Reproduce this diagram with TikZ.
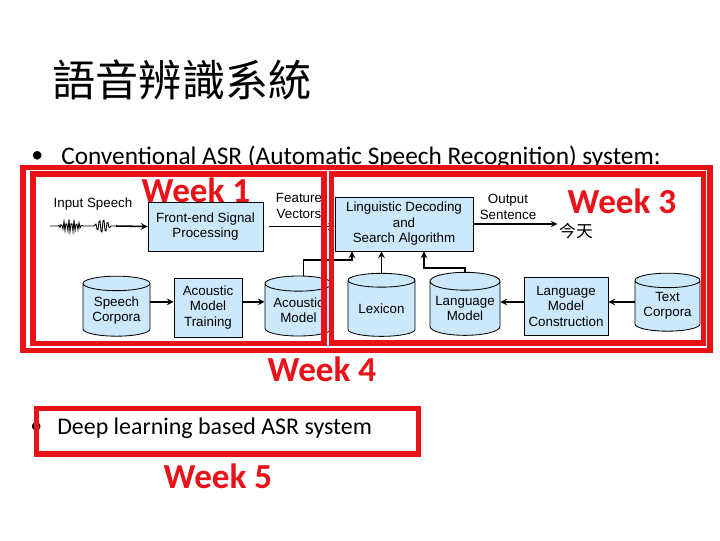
\documentclass[tikz,border=0pt]{standalone}
\usepackage{fontspec}
\setmainfont{Carlito}
\newfontfamily\diagfont{Liberation Sans}
\newfontfamily\cjk{Noto Sans CJK TC}
\usetikzlibrary{shapes.geometric}
\definecolor{weekred}{RGB}{232,18,24}
\definecolor{boxblue}{RGB}{204,232,252}

\begin{document}
\begin{tikzpicture}[x=0.025cm, y=-0.025cm, >=stealth,
  procbox/.style={draw, line width=0.6pt, fill=boxblue, align=center, inner sep=0pt, font=\diagfont\fontsize{9.5}{11}\selectfont},
  dbcyl/.style={cylinder, shape border rotate=90, aspect=0.3, draw, line width=0.6pt, fill=boxblue, align=center, inner sep=0pt, font=\diagfont\fontsize{9.5}{11}\selectfont},
  plainlbl/.style={align=center, inner sep=1pt, font=\diagfont\fontsize{9.5}{11}\selectfont},
  link/.style={->, line width=1.1pt},
  weekframe/.style={draw=weekred, line width=3.6pt},
  weeklabel/.style={text=weekred, inner sep=0pt, font=\bfseries\fontsize{25}{25}\selectfont},
  bullettext/.style={anchor=west, inner sep=0pt, font=\fontsize{17}{17}\selectfont}]
  \fill[white] (0,0) rectangle (720,540);
  \useasboundingbox (0,0) rectangle (720,540);

  % Title and bullets
  \node (title) at (182,80) {\cjk\fontsize{30.7}{31}\selectfont 語音辨識系統};
  \node[bullettext] (dot1) at (31,157) {•};
  \node[bullettext, font=\fontsize{18}{18}\selectfont] (conv) at (61,157) {Conventional ASR (Automatic Speech Recognition) system:};
  \node[bullettext] (dot2) at (30,428) {•};
  \node[bullettext] (deep) at (57,428) {Deep learning based ASR system};

  % Upper row
  \node[plainlbl] (input) at (93,204) {Input Speech};
  \node[procbox, minimum width=2.875cm, minimum height=1.225cm] (fe) at (205.5,226.5) {Front-end Signal\\Processing};
  \node[plainlbl] (feat) at (299,206) {Feature\\Vectors};
  \node[procbox, minimum width=3.45cm, minimum height=1.35cm] (ld) at (404,224) {Linguistic Decoding\\and\\Search Algorithm};
  \node[plainlbl] (outsent) at (508,207) {Output\\Sentence};
  \node[inner sep=1pt, font=\cjk\fontsize{12}{12}\selectfont] (today) at (576,231) {今天};

  % Lower row
  \node[dbcyl, minimum width=1.675cm, minimum height=1.5cm] (sc) at (116.5,310) {\\[-3pt]Speech\\Corpora};
  \node[procbox, minimum width=1.7cm, minimum height=1.475cm] (amt) at (208,307.5) {Acoustic\\Model\\Training};
  \node[dbcyl, minimum width=1.675cm, minimum height=1.5cm] (am) at (298.5,310) {Acoustic\\Model};
  \node[dbcyl, minimum width=1.675cm, minimum height=1.575cm] (lex) at (381.5,308.5) {\raisebox{-5pt}{Lexicon}};
  \node[dbcyl, minimum width=1.75cm, minimum height=1.575cm] (lm) at (465,308.5) {Language\\Model};
  \node[procbox, minimum width=2.1cm, minimum height=1.45cm] (lmc) at (566,306) {Language\\Model\\Construction};
  \node[dbcyl, minimum width=1.625cm, minimum height=1.45cm] (tc) at (667.5,306) {Text\\Corpora};

  % Waveform
  \draw[line width=0.6pt] (50,226) -- (58,226)
    -- plot[domain=58:83, samples=26] (\x,{226+7*sin(180*(\x-58)/25)*sin((\x-58)*577+40)})
    -- (94,226)
    -- plot[domain=94:111, samples=18] (\x,{226+8*sin(180*(\x-94)/17)*sin((\x-94)*631+40)})
    -- (116,226) coordinate (wend);
  \draw[link] (wend) -- (fe.west);

  % Connectors
  \draw[link] ([xshift=0.15cm]fe.east) -- (fe.east -| ld.west);
  \draw[link] (ld.east) -- (ld.east -| today.west);
  \path ([yshift=0.14cm]amt.west) coordinate (amtin);
  \draw[link] (sc.east |- amtin) -- (amtin);
  \path ([yshift=0.14cm]amt.east) coordinate (amtout);
  \draw[link] (amtout) -- (amtout -| am.west);
  \coordinate (amup) at (352,260);
  \draw[link] ([xshift=0.12cm]am.north) |- (amup) -- (amup |- ld.south);
  \draw[link] (lex.north) -- (lex.north |- ld.south);
  \coordinate (lmup) at (424,268);
  \draw[link] (lm.north) |- (lmup) -- (lmup |- ld.south);
  \path ([yshift=0.1cm]lmc.west) coordinate (lmcin);
  \draw[link] (lmcin) -- (lmcin -| lm.east);
  \draw[link] (tc.west |- lmcin) -- (lmc.east |- lmcin);

  % Week frames
  \draw[weekframe] (23,167.5) rectangle (710,350.5);
  \draw[weekframe] (33,174) rectangle (324,343.5);
  \draw[weekframe] (331.5,174) rectangle (703.5,343);
  \draw[weekframe] (36.5,408.5) rectangle (418.5,454);

  % Week labels
  \node[weeklabel] (wk1) at (196,190) {Week 1};
  \node[weeklabel] (wk3) at (622,201) {Week 3};
  \node[weeklabel] (wk4) at (322,369) {Week 4};
  \node[weeklabel] (wk5) at (218,476) {Week 5};
\end{tikzpicture}
\end{document}
